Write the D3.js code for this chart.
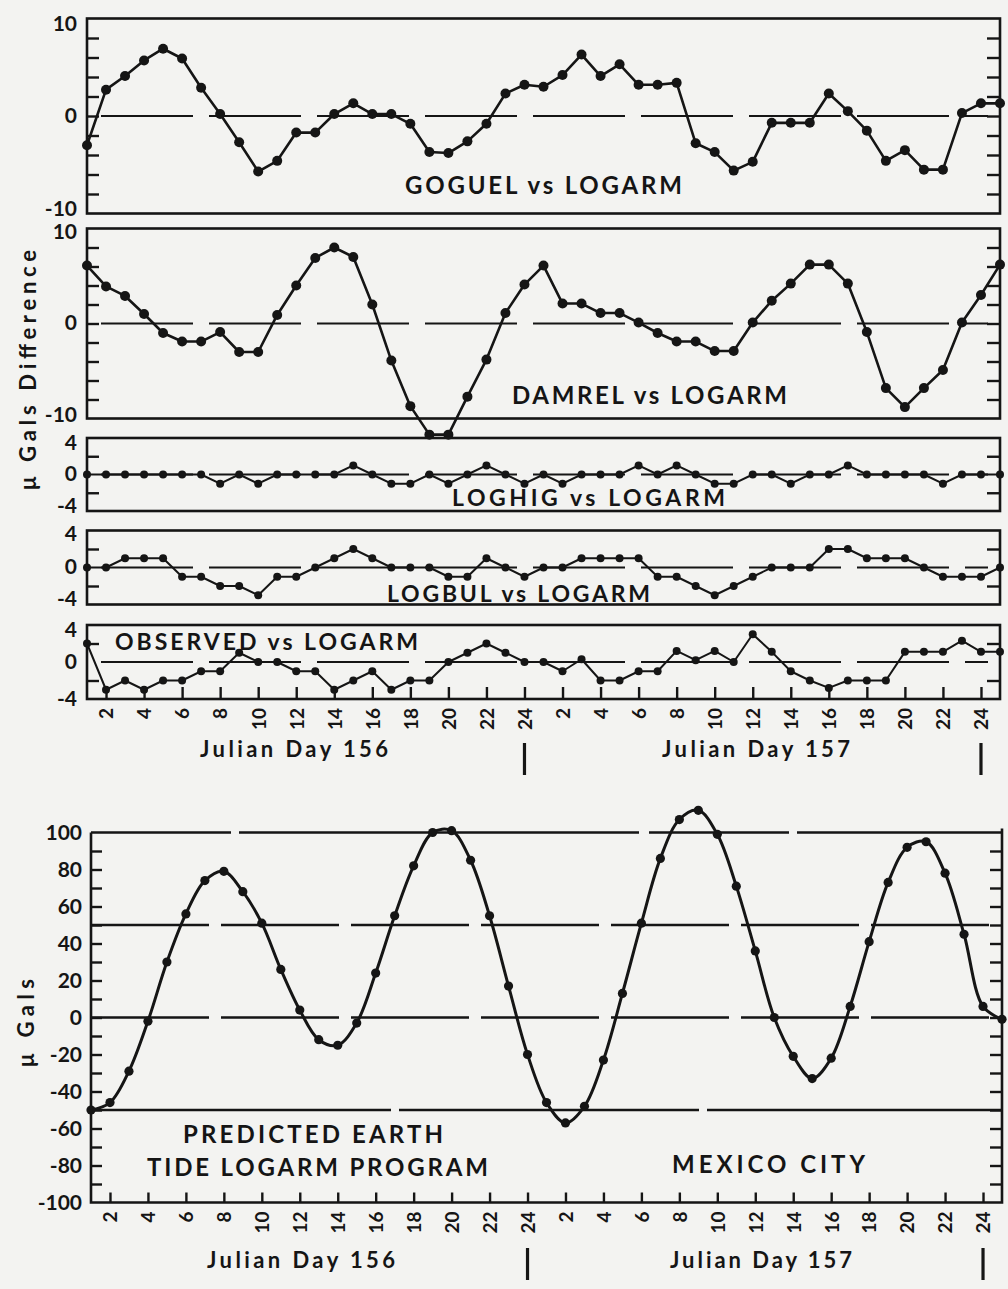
<!DOCTYPE html>
<html><head><meta charset="utf-8">
<script src="https://cdn.jsdelivr.net/npm/d3@7"></script>
<style>
html,body{margin:0;padding:0;background:#f3f3f1;}
svg{display:block;}
</style></head><body>
<svg id="c" width="1008" height="1289"></svg>
<script>
// ---------- data ----------
const hours = [1,2,3,4,5,6,7,8,9,10,11,12,13,14,15,16,17,18,19,20,21,22,23,24,25,26,27,28,29,30,31,32,33,34,35,36,37,38,39,40,41,42,43,44,45,46,47,48,49];
const tickHours = [2,4,6,8,10,12,14,16,18,20,22,24,26,28,30,32,34,36,38,40,42,44,46,48];
const tickLabels = ["2","4","6","8","10","12","14","16","18","20","22","24","2","4","6","8","10","12","14","16","18","20","22","24"];
const dayLabels = ["Julian Day 156","Julian Day 157"];
const dayEndHours = [24,48];

const goguel = [-3.0,2.7,4.1,5.7,6.9,5.9,2.9,0.2,-2.7,-5.7,-4.6,-1.7,-1.7,0.2,1.3,0.2,0.2,-0.8,-3.7,-3.8,-2.6,-0.8,2.3,3.2,3.0,4.2,6.3,4.1,5.3,3.2,3.2,3.4,-2.8,-3.7,-5.6,-4.7,-0.7,-0.7,-0.7,2.3,0.5,-1.5,-4.6,-3.5,-5.5,-5.5,0.3,1.3,1.3];
const damrel = [6.1,3.9,2.9,1.0,-1.0,-1.9,-1.9,-0.9,-3.0,-3.0,0.9,4.0,6.9,8.0,7.0,2.0,-3.9,-8.7,-11.7,-11.7,-7.7,-3.8,1.1,4.1,6.1,2.1,2.1,1.1,1.1,0.1,-1.0,-1.9,-1.9,-2.9,-2.9,0.1,2.4,4.2,6.2,6.2,4.2,-0.9,-6.8,-8.8,-6.8,-4.9,0.1,3.0,6.2];
const loghig = [0,0,0,0,0,0,0,-1,0,-1,0,0,0,0,1,0,-1,-1,0,-1,0,1,0,-1,0,-1,0,0,0,1,0,1,0,-1,-1,0,0,-1,0,0,1,0,0,0,0,-1,0,0,0];
const logbul = [0,0,1,1,1,-1,-1,-2,-2,-3,-1,-1,0,1,2,1,0,0,0,-1,-1,1,0,-1,0,0,1,1,1,1,-1,-1,-2,-3,-2,-1,0,0,0,2,2,1,1,1,0,-1,-1,-1,0];
const observed = [2,-3,-2,-3,-2,-2,-1,-1,1,0,0,-1,-1,-3,-2,-1,-3,-2,-2,0,1,2,1,0,0,-1,0.3,-2,-2,-1,-1,1.2,0.2,1.2,0,3,1.1,-1,-2,-2.8,-2,-2,-2,1.1,1.1,1.1,2.3,1.1,1.1];
const predicted = [-50,-46,-29,-2,30,56,74,79,68,51,26,4,-12,-15,-3,24,55,82,100,101,85,55,17,-20,-46,-57,-48,-23,13,51,86,107,112,99,71,36,0,-21,-33,-22,6,41,73,92,95,78,45,6,-1];

const panelNames = ["GOGUEL vs LOGARM","DAMREL vs LOGARM","LOGHIG vs LOGARM","LOGBUL vs LOGARM","OBSERVED vs LOGARM"];
const bigTicks = [-8,-6,-4,-2,0,2,4,6,8];
const bigLabels = [10,0,-10];
const smallTicks = [-2,2];
const smallLabels = [4,0,-4];
const tideTicks = [-90,-80,-70,-60,-50,-40,-30,-20,-10,0,10,20,30,40,50,60,70,80,90];
const tideLabels = [100,80,60,40,20,0,-20,-40,-60,-80,-100];
const tideGrid = [100,50,0,-50];
const tideTitle = ["PREDICTED EARTH","TIDE LOGARM PROGRAM"];
const siteName = "MEXICO CITY";

// ---------- drawing ----------
const ink = "#151515";
const FONT = "Lato, 'DejaVu Sans', sans-serif";
const svg = d3.select("#c");
svg.append("rect").attr("width",1008).attr("height",1289).attr("fill","#f3f3f1");

const xTop = d3.scaleLinear().domain([1,49]).range([87,1000]);
const xBot = d3.scaleLinear().domain([1,49]).range([91,1002]);

function txt(s, x, y, size, len, opts={}) {
  const t = svg.append("text").attr("x",x).attr("y",y).text(s)
    .attr("font-family",FONT).attr("font-weight",700).attr("font-size",size).attr("fill",ink);
  if (len) t.attr("textLength",len).attr("lengthAdjust","spacing");
  if (opts.anchor) t.attr("text-anchor",opts.anchor);
  if (opts.transform) t.attr("transform",opts.transform);
  return t;
}

function styleAxis(g, sw) {
  g.select(".domain").remove();
  g.attr("color",ink).attr("font-family",FONT).attr("font-weight",700);
  g.selectAll("line").attr("stroke-width",sw);
}

const panels = [
  {data:goguel, name:panelNames[0], max:10, top:18.5, bot:213.5, ticks:bigTicks, labels:bigLabels, r:5, lw:2.6, lab:[405,194,277,24], off:[6,-4]},
  {data:damrel, name:panelNames[1], max:10, top:228.5, bot:418.5, ticks:bigTicks, labels:bigLabels, r:5, lw:2.6, lab:[512,404,275,24], off:[4,-3]},
  {data:loghig, name:panelNames[2], max:4, top:438, bot:511, ticks:smallTicks, labels:smallLabels, r:4, lw:2, lab:[452,506,273,23], off:[5,-5]},
  {data:logbul, name:panelNames[3], max:4, top:530.5, bot:604.5, ticks:smallTicks, labels:smallLabels, r:4, lw:2, lab:[387,602,263,23], off:[4,-5]},
  {data:observed, name:panelNames[4], max:4, top:625, bot:699, ticks:smallTicks, labels:smallLabels, r:4, lw:2, lab:[115,650,303,23], off:[5,0]}
];

panels.forEach(p => {
  const y = d3.scaleLinear().domain([-p.max,p.max]).range([p.bot,p.top]);
  // zero dashed line
  svg.append("line").attr("x1",xTop(1)+14).attr("x2",xTop(49)-12)
    .attr("y1",y(0)).attr("y2",y(0)).attr("stroke",ink).attr("stroke-width",2.2)
    .attr("stroke-dasharray","92,16");
  // frame
  svg.append("rect").attr("x",xTop(1)).attr("y",p.top).attr("width",xTop(49)-xTop(1))
    .attr("height",p.bot-p.top).attr("fill","none").attr("stroke",ink).attr("stroke-width",2.6);
  // inside ticks left/right
  styleAxis(svg.append("g").attr("transform",`translate(${xTop(1)},0)`)
    .call(d3.axisLeft(y).tickValues(p.ticks).tickSizeInner(-12).tickSizeOuter(0).tickFormat("")), 2.4);
  styleAxis(svg.append("g").attr("transform",`translate(${xTop(49)},0)`)
    .call(d3.axisRight(y).tickValues(p.ticks).tickSizeInner(-13).tickSizeOuter(0).tickFormat("")), 2.4);
  // y labels
  const la = svg.append("g").attr("transform",`translate(${xTop(1)},0)`)
    .call(d3.axisLeft(y).tickValues(p.labels).tickSize(0).tickPadding(10).tickFormat(d=>d));
  styleAxis(la, 0);
  la.selectAll("text").attr("font-size",21).attr("fill",ink);
  la.selectAll(".tick").attr("transform", d => {
    const o = d === p.max ? p.off[0] : (d === -p.max ? p.off[1] : 0);
    return `translate(0,${y(d)+o})`;
  });
  // line + points
  const line = d3.line().x((d,i)=>xTop(hours[i])).y(d=>y(d));
  svg.append("path").datum(p.data).attr("d",line).attr("fill","none")
    .attr("stroke",ink).attr("stroke-width",p.lw).attr("stroke-linejoin","round");
  svg.append("g").selectAll("circle").data(p.data).join("circle")
    .attr("cx",(d,i)=>xTop(hours[i])).attr("cy",d=>y(d)).attr("r",p.r).attr("fill",ink);
  // label
  txt(p.name, p.lab[0], p.lab[1], p.lab[3], p.lab[2]);
});

// x axis under panels
function xAxis(x, yPos, tickLen) {
  const g = svg.append("g").attr("transform",`translate(0,${yPos})`)
    .call(d3.axisBottom(x).tickValues(tickHours).tickSizeInner(-tickLen).tickSizeOuter(0)
      .tickFormat((d,i)=>tickLabels[i]));
  styleAxis(g, 2.4);
  g.selectAll("text").attr("font-size",19).attr("fill",ink)
    .attr("transform","rotate(-90)").attr("x",-9).attr("y",0).attr("dy","0.36em")
    .attr("text-anchor","end");
}
xAxis(xTop, 699, 12);
txt(dayLabels[0], 294, 757, 22, 188, {anchor:"middle"});
txt(dayLabels[1], 756, 757, 22, 188, {anchor:"middle"});
dayEndHours.forEach(h => {
  svg.append("line").attr("x1",xTop(h)).attr("x2",xTop(h)).attr("y1",743).attr("y2",775)
    .attr("stroke",ink).attr("stroke-width",3.2);
});

// y title for difference panels
txt("\u03BC Gals Difference", 36, 370, 22, 240, {anchor:"middle", transform:"rotate(-90,36,370)"});

// ---------- bottom tide panel ----------
const yT = d3.scaleLinear().domain([-100,100]).range([1202.5,832.5]);
tideGrid.forEach(v => {
  svg.append("line").attr("x1",xBot(1)).attr("x2",xBot(49)).attr("y1",yT(v)).attr("y2",yT(v))
    .attr("stroke",ink).attr("stroke-width",2.4)
    .attr("stroke-dasharray", v === -50 ? "300,8" : (v === 100 ? "140,8,400,10" : "118,12"));
});
// frame: left, right, bottom
svg.append("path").attr("d",`M${xBot(1)},${yT(100)}V${yT(-100)}H${xBot(49)}V${yT(100)-4}`)
  .attr("fill","none").attr("stroke",ink).attr("stroke-width",2.6);
styleAxis(svg.append("g").attr("transform",`translate(${xBot(1)},0)`)
  .call(d3.axisLeft(yT).tickValues(tideTicks).tickSizeInner(-11).tickSizeOuter(0).tickFormat("")), 2.4);
styleAxis(svg.append("g").attr("transform",`translate(${xBot(49)},0)`)
  .call(d3.axisRight(yT).tickValues(tideTicks).tickSizeInner(-12).tickSizeOuter(0).tickFormat("")), 2.4);
const tl = svg.append("g").attr("transform",`translate(${xBot(1)},0)`)
  .call(d3.axisLeft(yT).tickValues(tideLabels).tickSize(0).tickPadding(9).tickFormat(d=>d));
styleAxis(tl, 0);
tl.selectAll("text").attr("font-size",21).attr("fill",ink);

const tideLine = d3.line().x((d,i)=>xBot(hours[i])).y(d=>yT(d)).curve(d3.curveCatmullRom.alpha(0.5));
svg.append("path").datum(predicted).attr("d",tideLine).attr("fill","none")
  .attr("stroke",ink).attr("stroke-width",3);
svg.append("g").selectAll("circle").data(predicted).join("circle")
  .attr("cx",(d,i)=>xBot(hours[i])).attr("cy",d=>yT(d)).attr("r",4.6).attr("fill",ink);

xAxis(xBot, 1202.5, 10);
txt(dayLabels[0], 301, 1268, 22, 188, {anchor:"middle"});
txt(dayLabels[1], 761, 1268, 22, 182, {anchor:"middle"});
dayEndHours.forEach(h => {
  svg.append("line").attr("x1",xBot(h)).attr("x2",xBot(h)).attr("y1",1248).attr("y2",1280)
    .attr("stroke",ink).attr("stroke-width",3.2);
});

txt(tideTitle[0], 183, 1143, 24, 260);
txt(tideTitle[1], 147, 1176, 24, 341);
txt(siteName, 672, 1173, 24, 193);
txt("\u03BC Gals", 34, 1023, 22, 88, {anchor:"middle", transform:"rotate(-90,34,1023)"});
</script>
</body></html>
